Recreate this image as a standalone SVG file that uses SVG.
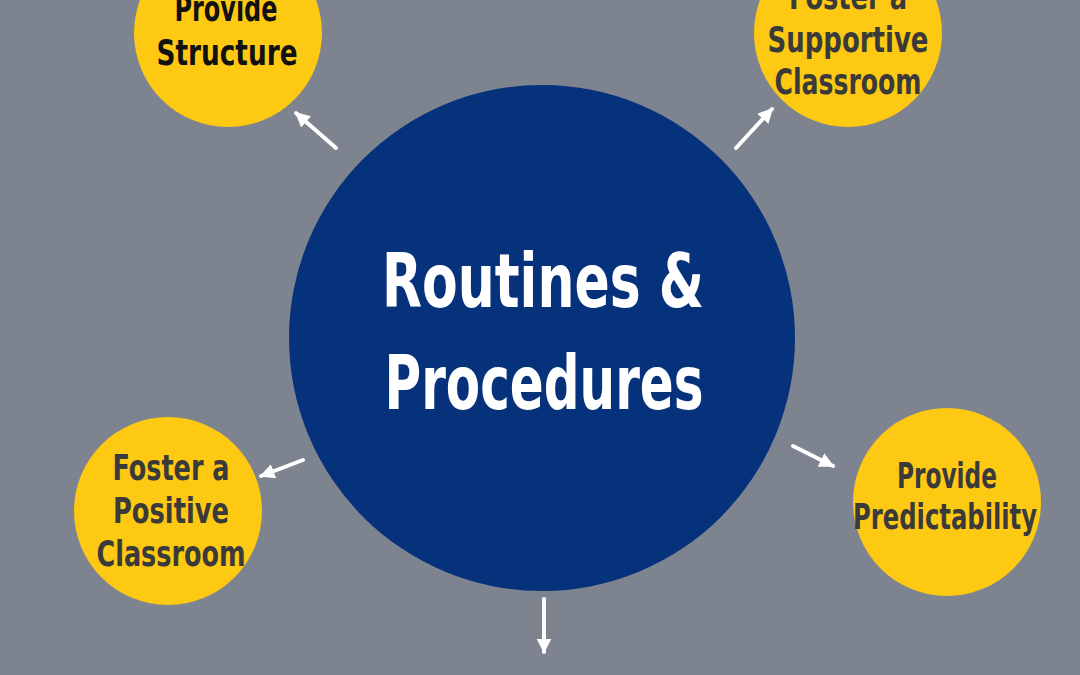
<svg xmlns="http://www.w3.org/2000/svg" width="1080" height="675" viewBox="0 0 1080 675">
<defs>
<marker id="ah" viewBox="0 0 10 10" refX="9" refY="5" markerWidth="15" markerHeight="15" markerUnits="userSpaceOnUse" orient="auto">
<path d="M0,0 L10,5 L0,10 Z" fill="#ffffff"/>
</marker>
<style>
.bg{fill:#7e8390}
.hub{fill:#06317b}
.leaf{fill:#fdc913}
.conn{stroke:#ffffff;stroke-width:4;stroke-linecap:round;fill:none}
.t{font-family:"DejaVu Sans Condensed","Liberation Sans",sans-serif;font-weight:bold;text-anchor:middle;fill:#3a3a3a;font-size:35px}
.main{font-family:"DejaVu Sans Condensed","Liberation Sans",sans-serif;font-weight:bold;text-anchor:middle;fill:#ffffff;font-size:74px}
</style>
</defs>
<rect class="bg" x="0" y="0" width="1080" height="675"/>
<g id="connectors">
<line class="conn" x1="336" y1="148" x2="296" y2="113" marker-end="url(#ah)"/>
<line class="conn" x1="736" y1="148" x2="772" y2="109" marker-end="url(#ah)"/>
<line class="conn" x1="303" y1="460" x2="261" y2="476" marker-end="url(#ah)"/>
<line class="conn" x1="793" y1="446" x2="833" y2="466" marker-end="url(#ah)"/>
<line class="conn" x1="544" y1="599" x2="544" y2="652" marker-end="url(#ah)"/>
</g>
<g id="hub">
<circle class="hub" cx="542" cy="338" r="253"/>
<text class="main" x="543" y="307" textLength="322" lengthAdjust="spacingAndGlyphs">Routines &amp;</text>
<text class="main" x="544" y="409" textLength="319" lengthAdjust="spacingAndGlyphs">Procedures</text>
</g>
<g id="node-structure">
<circle class="leaf" cx="228" cy="33" r="94"/>
<text class="t" x="226" y="21" style="fill:#111111" textLength="103" lengthAdjust="spacingAndGlyphs">Provide</text>
<text class="t" x="227" y="65" style="fill:#111111" textLength="141" lengthAdjust="spacingAndGlyphs">Structure</text>
</g>
<g id="node-supportive">
<circle class="leaf" cx="848" cy="33" r="94"/>
<text class="t" x="848" y="9" textLength="118" lengthAdjust="spacingAndGlyphs">Foster a</text>
<text class="t" x="848" y="52" textLength="161" lengthAdjust="spacingAndGlyphs">Supportive</text>
<text class="t" x="848" y="94" textLength="147" lengthAdjust="spacingAndGlyphs">Classroom</text>
</g>
<g id="node-positive">
<circle class="leaf" cx="168" cy="511" r="94"/>
<text class="t" x="171" y="480" textLength="117" lengthAdjust="spacingAndGlyphs">Foster a</text>
<text class="t" x="171" y="523" textLength="116" lengthAdjust="spacingAndGlyphs">Positive</text>
<text class="t" x="171" y="566" textLength="149" lengthAdjust="spacingAndGlyphs">Classroom</text>
</g>
<g id="node-predictability">
<circle class="leaf" cx="947" cy="502" r="94"/>
<text class="t" x="947" y="488" textLength="100" lengthAdjust="spacingAndGlyphs">Provide</text>
<text class="t" x="945" y="529" textLength="184" lengthAdjust="spacingAndGlyphs">Predictability</text>
</g>
</svg>
